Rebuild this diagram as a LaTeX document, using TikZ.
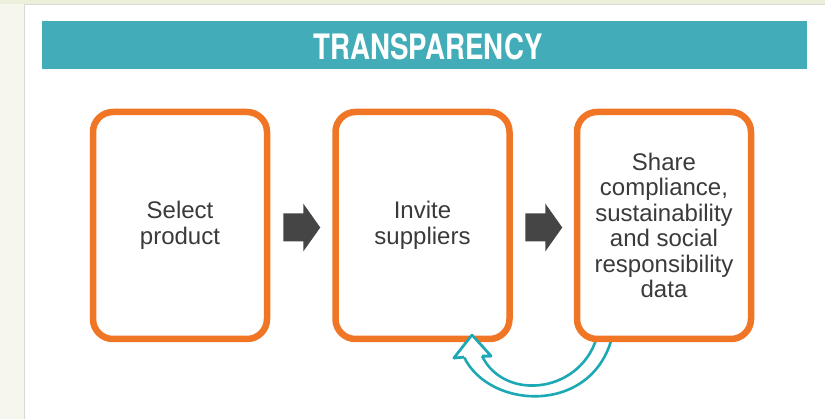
\documentclass[tikz,border=0pt]{standalone}
\usepackage{fontspec}
\usepackage{graphicx}
\setmainfont{Liberation Sans}
\newfontfamily\headfont{TeX Gyre Heros}
\usetikzlibrary{calc}
\definecolor{cream}{HTML}{F6F6EF}
\definecolor{topstrip}{HTML}{ECEFD9}
\definecolor{panelborder}{HTML}{D8D8D4}
\definecolor{headteal}{HTML}{42ADB8}
\definecolor{boxorange}{HTML}{F07524}
\definecolor{textgrey}{HTML}{3A3A3A}
\definecolor{arrowgrey}{HTML}{454545}
\definecolor{loopteal}{HTML}{1CA9B5}
\tikzset{
  stepbox/.style={draw=boxorange, line width=6.5pt, rounded corners=20pt, fill=white,
    minimum width=174pt, minimum height=227pt, align=center, inner sep=0pt,
    text=textgrey, font=\fontsize{24}{25.5}\selectfont},
  blockarrow/.style={fill=arrowgrey},
  looparrow/.style={draw=loopteal, line width=2.6pt, fill=white, line join=round},
  loopline/.style={draw=loopteal, line width=2.6pt, line join=round},
}
\begin{document}
\begin{tikzpicture}[x=1pt,y=-1pt]
\useasboundingbox (0,0) rectangle (825,419);
\fill[cream] (0,0) rectangle (825,419);
\fill[topstrip] (0,0) rectangle (825,4);
\filldraw[fill=white, draw=panelborder, line width=0.8pt] (24,4.5) rectangle (830,425);
\node[fill=headteal, minimum width=765pt, minimum height=48pt, inner sep=0pt] (head) at (424.5,45) {};
\node[text=white, inner sep=0pt] (title) at (428,46.5) {\scalebox{0.79}[1]{\headfont\bfseries\fontsize{35}{35}\selectfont TRANSPARENCY}};
% feedback loop arrow from b3 back to b2 (tail tucked under box b3)
\coordinate (tip) at (472,335);
\coordinate (tail) at (598,333);
\filldraw[looparrow] (tip) -- ++(19,21) -- ++(-9,0)
  .. controls ($(tail)+(-93,70)$) and ($(tail)+(-14,60)$) .. (tail)
  -- ++(15,0)
  .. controls ($(tail)+(-2,82)$) and ($(tail)+(-108,78)$) .. ($(tip)+(-8,22)$)
  -- ++(-10,1) -- cycle;
\node[stepbox] (b1) at (180,225.5) {Select\\product};
\node[stepbox] (b2) at (422.5,225.5) {Invite\\suppliers};
\node[stepbox] (b3) at (664,225.5) {Share\\compliance,\\sustainability\\and social\\responsibility\\data};
\coordinate (m1) at ($(b1.east)!0.5!(b2.west)+(0,2)$);
\coordinate (m2) at ($(b2.east)!0.5!(b3.west)+(0,2)$);
\foreach \m in {m1,m2}{
  \fill[blockarrow] ([shift={(-18,-14)}]\m) -- ([shift={(2,-14)}]\m) -- ([shift={(2,-24)}]\m)
    -- ([shift={(19,0)}]\m) -- ([shift={(2,24)}]\m) -- ([shift={(2,14)}]\m)
    -- ([shift={(-18,14)}]\m) -- cycle;
}
% arrow head redrawn on top of box b2's border
\fill[white] ($(tip)+(0,0.5)$) -- ($(tip)+(18,21)$) -- ($(tip)+(-17,22.5)$) -- cycle;
\draw[loopline] ($(tip)+(10,21)$) -- ++(9,0) -- (tip) -- ($(tip)+(-18,23)$) -- ++(10,-1);
\end{tikzpicture}
\end{document}
